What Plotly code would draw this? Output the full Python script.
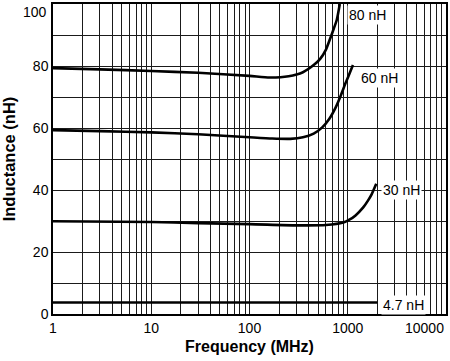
import plotly.graph_objects as go
import math

# ---- data ----
freq_80 = [1, 3, 10, 30, 100, 160, 250, 350, 450, 524, 600, 660, 720, 775, 830]
ind_80 = [79.3, 78.9, 78.4, 77.8, 76.8, 76.3, 76.7, 78.0, 80.3, 82.3, 85.3, 88.7, 92.0, 95.0, 100.0]

freq_60 = [1, 3, 10, 30, 100, 170, 260, 350, 450, 550, 650, 750, 850, 950, 1050, 1130]
ind_60 = [59.3, 59.0, 58.6, 58.0, 57.0, 56.6, 56.5, 57.0, 58.2, 60.2, 63.0, 66.5, 70.5, 74.5, 77.8, 80.3]

freq_30 = [1, 10, 30, 100, 300, 600, 900, 1050, 1200, 1430, 1600, 1750, 1950]
ind_30 = [29.9, 29.7, 29.3, 29.0, 28.6, 28.7, 29.5, 30.5, 31.8, 34.3, 36.5, 38.6, 42.0]

freq_4p7 = [1, 2000]
ind_4p7 = [3.7, 3.7]

series_labels = ["80 nH", "60 nH", "30 nH", "4.7 nH"]
label_freq = [990, 1310, 2180, 2180]
label_ind = [96.5, 76.2, 40.0, 3.0]

x_tick_labels = ["1", "10", "100", "1000", "10000"]
y_tick_labels = ["0", "20", "40", "60", "80", "100"]

FONT = "Liberation Sans, Arial, Helvetica, sans-serif"

fig = go.Figure()
for fx, fy in [(freq_80, ind_80), (freq_60, ind_60), (freq_30, ind_30), (freq_4p7, ind_4p7)]:
    fig.add_trace(go.Scatter(x=fx, y=fy, mode="lines",
                             line=dict(color="black", width=2.6, shape="spline", smoothing=0.6),
                             showlegend=False, cliponaxis=True))

for t, fx, fy in zip(series_labels, label_freq, label_ind):
    fig.add_annotation(x=math.log10(fx), y=fy, text=t, showarrow=False,
                       xanchor="left", yanchor="middle", bgcolor="white",
                       borderpad=1, font=dict(family=FONT, size=14, color="black"))

# x ticks: every 1..9 x 10^k, labels only at decades
xvals, xtext = [], []
for k in range(4):
    for m in range(1, 10):
        xvals.append(m * 10 ** k)
        xtext.append(x_tick_labels[k] if m == 1 else "")
xvals.append(10000)
xtext.append("")

yvals = list(range(0, 101, 10))
ytext = [y_tick_labels[i // 2] if i % 2 == 0 else "" for i in range(len(yvals))]
ytext[-1] = ""

# last x label (right aligned to plot edge) and top y label (sits below its gridline)
fig.add_annotation(x=4, y=0, xref="x", yref="paper", text=x_tick_labels[4],
                   showarrow=False, xanchor="right", yanchor="top", yshift=-4,
                   font=dict(family=FONT, size=14, color="black"))
fig.add_annotation(x=0, y=100, xref="paper", yref="y", text=y_tick_labels[5],
                   showarrow=False, xanchor="right", yanchor="top", xshift=-4, yshift=2,
                   font=dict(family=FONT, size=14, color="black"))

fig.update_layout(
    width=450, height=361,
    margin=dict(l=53, r=4, t=2, b=47),
    paper_bgcolor="white", plot_bgcolor="white",
    font=dict(family=FONT, size=14, color="black"),
    xaxis=dict(type="log", range=[0, 4], tickmode="array", tickvals=xvals, ticktext=xtext,
               showgrid=True, gridcolor="#1a1a1a", gridwidth=1, ticks="",
               showline=True, linecolor="black", linewidth=1.5, mirror=True, zeroline=False,
               title=dict(text="<b>Frequency (MHz)</b>", font=dict(family=FONT, size=16), standoff=6)),
    yaxis=dict(range=[0, 100], tickmode="array", tickvals=yvals, ticktext=ytext,
               showgrid=True, gridcolor="#1a1a1a", gridwidth=1, ticks="",
               showline=True, linecolor="black", linewidth=1.5, mirror=True, zeroline=False,
               title=dict(text="<b>Inductance (nH)</b>", font=dict(family=FONT, size=16.5), standoff=13)),
)

fig.write_html("out.html", config={"displayModeBar": False},
               post_script="document.body.style.margin='0';document.body.style.padding='0';")
